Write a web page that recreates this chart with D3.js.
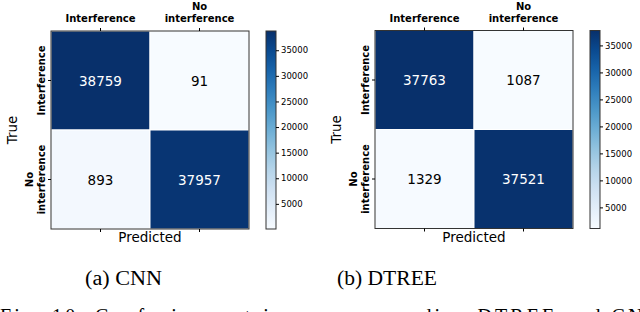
<!DOCTYPE html>
<html>
<head>
<meta charset="utf-8">
<script src="https://cdn.jsdelivr.net/npm/d3@7"></script>
<style>
  body { margin: 0; background: #fff; }
  svg { display: block; }
</style>
</head>
<body>
<div id="chart"></div>
<script>
// class labels (predicted on top, true on the left)
const classLabels = [['Interference'], ['No', 'interference']];
const rowLabels = [['Interference'], ['No', 'interference']];

// confusion matrix values, row = true, col = predicted
const cnnValues = [[38759, 91], [893, 37957]];
const dtreeValues = [[37763, 1087], [1329, 37521]];

const colorbarTicks = [5000, 10000, 15000, 20000, 25000, 30000, 35000];
const captions = ['(a) CNN', '(b) DTREE'];
const figureText = 'Fig. 10:  Confusion  matrices  corresponding  DTREE  and  CNN';

const svg = d3.select('#chart')
    .append('svg')
    .attr('width', 640)
    .attr('height', 312);

const sans = 'DejaVu Sans, sans-serif';
const serif = 'Liberation Serif, Times New Roman, serif';

const drawPanel = (values, ox, oy, caption, capX, capW, idx) => {
    const size = 198;
    const flat = values.flat();
    const vMin = d3.min(flat);
    const vMax = d3.max(flat);
    const color = d3.scaleSequential(d3.interpolateBlues).domain([vMin, vMax]);

    const x = d3.scaleBand().domain([0, 1]).range([0, size]);
    const y = d3.scaleBand().domain([0, 1]).range([0, size]);

    const g = svg.append('g').attr('transform', `translate(${ox},${oy})`);

    const cells = [];
    values.forEach((row, r) => row.forEach((v, c) => cells.push({ r, c, v })));

    g.selectAll('rect.cell')
        .data(cells)
        .enter()
        .append('rect')
        .attr('class', 'cell')
        .attr('x', d => x(d.c))
        .attr('y', d => y(d.r))
        .attr('width', x.bandwidth())
        .attr('height', y.bandwidth())
        .attr('fill', d => color(d.v))
        .attr('stroke', '#fff')
        .attr('stroke-width', 1);

    g.selectAll('text.val')
        .data(cells)
        .enter()
        .append('text')
        .attr('x', d => x(d.c) + x.bandwidth() / 2)
        .attr('y', d => y(d.r) + y.bandwidth() / 2 + 5)
        .attr('text-anchor', 'middle')
        .style('font-family', sans)
        .style('font-size', '13.5px')
        .attr('fill', d => (d.v > vMax / 2 ? '#fff' : '#000'))
        .text(d => d.v);

    // frame
    g.append('rect')
        .attr('width', size)
        .attr('height', size)
        .attr('fill', 'none')
        .attr('stroke', '#333')
        .attr('stroke-width', 1);

    // tick marks
    [0, 1].forEach(i => {
        const cx = x(i) + x.bandwidth() / 2;
        const cy = y(i) + y.bandwidth() / 2;
        g.append('line').attr('x1', cx).attr('x2', cx).attr('y1', 0).attr('y2', -3).attr('stroke', '#000');
        g.append('line').attr('x1', cx).attr('x2', cx).attr('y1', size).attr('y2', size + 3).attr('stroke', '#000');
        g.append('line').attr('x1', 0).attr('x2', -3).attr('y1', cy).attr('y2', cy).attr('stroke', '#000');
    });

    // top labels
    classLabels.forEach((lines, i) => {
        const t = g.append('text')
            .attr('text-anchor', 'middle')
            .style('font-family', sans)
            .style('font-size', '10px')
            .style('font-weight', 'bold');
        lines.forEach((ln, k) => {
            t.append('tspan')
                .attr('x', x(i) + x.bandwidth() / 2)
                .attr('y', -9 - (lines.length - 1 - k) * 12)
                .text(ln);
        });
    });

    // left labels (rotated)
    rowLabels.forEach((lines, i) => {
        const cy = y(i) + y.bandwidth() / 2;
        const t = g.append('text')
            .attr('transform', `translate(-6,${cy}) rotate(-90)`)
            .attr('text-anchor', 'middle')
            .style('font-family', sans)
            .style('font-size', '10px')
            .style('font-weight', 'bold');
        lines.forEach((ln, k) => {
            t.append('tspan')
                .attr('x', 0)
                .attr('y', -(lines.length - 1 - k) * 12)
                .text(ln);
        });
    });

    g.append('text')
        .attr('transform', `translate(-34,${size / 2}) rotate(-90)`)
        .attr('text-anchor', 'middle')
        .style('font-family', sans)
        .style('font-size', '13.5px')
        .text('True');

    g.append('text')
        .attr('x', size / 2)
        .attr('y', size + 13)
        .attr('text-anchor', 'middle')
        .style('font-family', sans)
        .style('font-size', '13.5px')
        .text('Predicted');

    // colorbar
    const cbX = size + 17;
    const cbW = 10;
    const cbScale = d3.scaleLinear().domain([vMin, vMax]).range([size, 0]);
    const gradId = `grad${idx}`;
    const grad = svg.append('defs')
        .append('linearGradient')
        .attr('id', gradId)
        .attr('x1', 0).attr('x2', 0).attr('y1', 1).attr('y2', 0);
    d3.range(0, 1.0001, 0.1).forEach(t => {
        grad.append('stop')
            .attr('offset', t)
            .attr('stop-color', d3.interpolateBlues(t));
    });
    g.append('rect')
        .attr('x', cbX)
        .attr('y', 0)
        .attr('width', cbW)
        .attr('height', size)
        .attr('fill', `url(#${gradId})`)
        .attr('stroke', '#333')
        .attr('stroke-width', 1);

    const axis = d3.axisRight(cbScale)
        .tickValues(colorbarTicks)
        .tickSize(3)
        .tickPadding(2)
        .tickFormat(d3.format('d'));
    const ag = g.append('g')
        .attr('transform', `translate(${cbX + cbW},0)`)
        .call(axis);
    ag.select('.domain').remove();
    ag.selectAll('text')
        .style('font-family', sans)
        .style('font-size', '8.5px')
        .attr('fill', '#000');

    // caption
    svg.append('text')
        .attr('x', capX)
        .attr('y', 285)
        .attr('textLength', capW)
        .attr('lengthAdjust', 'spacingAndGlyphs')
        .style('font-family', serif)
        .style('font-size', '20px')
        .text(caption);
};

drawPanel(cnnValues, 51, 31, captions[0], 85, 77, 0);
drawPanel(dtreeValues, 375, 30.5, captions[1], 337, 100, 1);

svg.append('text')
    .attr('x', 0)
    .attr('y', 323)
    .attr('textLength', 660)
    .attr('lengthAdjust', 'spacing')
    .style('font-family', serif)
    .style('font-size', '20px')
    .text(figureText);
</script>
</body>
</html>
